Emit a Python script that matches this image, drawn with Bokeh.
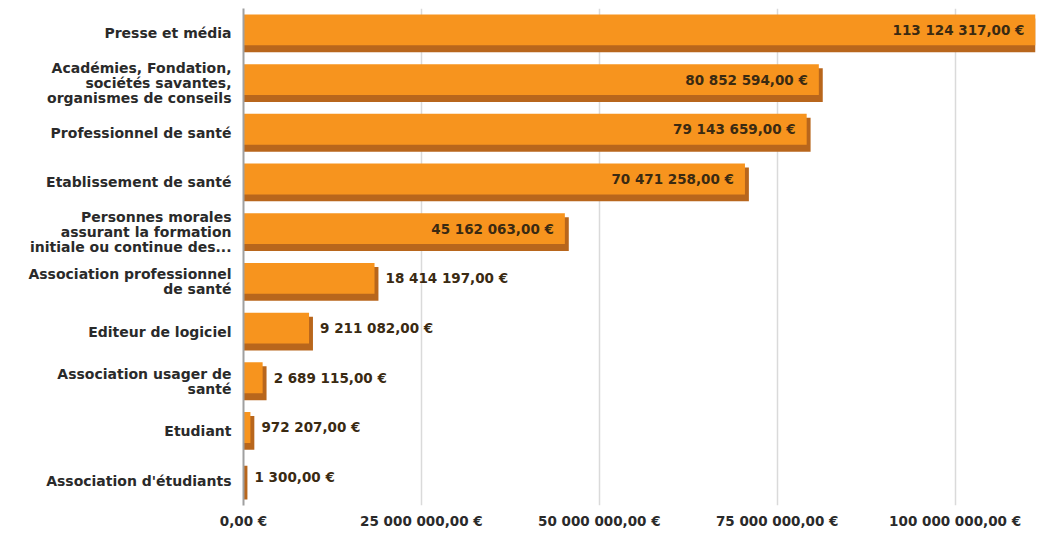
from bokeh.plotting import figure
from bokeh.models import Range1d, FixedTicker, ColumnDataSource
from bokeh.transform import dodge
from bokeh.core.properties import value
from bokeh.embed import file_html
from bokeh.resources import INLINE

categories = [
    "Presse et média",
    "Académies, Fondation,\nsociétés savantes,\norganismes de conseils",
    "Professionnel de santé",
    "Etablissement de santé",
    "Personnes morales\nassurant la formation\ninitiale ou continue des...",
    "Association professionnel\nde santé",
    "Editeur de logiciel",
    "Association usager de\nsanté",
    "Etudiant",
    "Association d'étudiants",
]
amounts = [113124317.00, 80852594.00, 79143659.00, 70471258.00, 45162063.00,
           18414197.00, 9211082.00, 2689115.00, 972207.00, 1300.00]
x_ticks = [0, 25000000, 50000000, 75000000, 100000000]

X_END = 111.3e6
FONT = "DejaVu Sans"


def euro(v):
    return f"{v:,.2f}".replace(",", " ").replace(".", ",") + " €"


n = len(categories)
ypos = [n - 1 - i for i in range(n)]
labels = [euro(v) for v in amounts]
inside = [v >= 40e6 for v in amounts]

src = ColumnDataSource(dict(y=ypos, v=amounts, label=labels))
src_in = ColumnDataSource(dict(
    y=[y for y, k in zip(ypos, inside) if k],
    x=[min(v, X_END) for v, k in zip(amounts, inside) if k],
    label=[l for l, k in zip(labels, inside) if k]))
src_out = ColumnDataSource(dict(
    y=[y for y, k in zip(ypos, inside) if not k],
    x=[v for v, k in zip(amounts, inside) if not k],
    label=[l for l, k in zip(labels, inside) if not k]))

p = figure(width=1039, height=538, output_backend="svg", toolbar_location=None,
           x_range=Range1d(0, X_END), y_range=Range1d(-0.5, n - 0.5),
           min_border_left=243, min_border_right=4, min_border_top=8,
           min_border_bottom=33)
p.outline_line_color = None
p.background_fill_color = "white"
p.border_fill_color = "white"

# shadow / depth face
p.hbar(y=dodge("y", -0.04, range=p.y_range), left=0,
       right=dodge("v", 0.55e6, range=p.x_range), height=0.68, source=src,
       fill_color="#B8661C", line_color=None)
# front face
p.hbar(y=dodge("y", 0.07, range=p.y_range), left=0, right="v", height=0.62,
       source=src, fill_color="#F7941E", line_color=None)

p.text(x="x", y=dodge("y", 0.07, range=p.y_range), text="label", source=src_in,
       text_align="right", text_baseline="middle", x_offset=-11,
       text_font=value(FONT), text_font_style="bold", text_font_size="13.5px",
       text_color="#3A2A12")
p.text(x="x", y=dodge("y", 0.07, range=p.y_range), text="label", source=src_out,
       text_align="left", text_baseline="middle", x_offset=11,
       text_font=value(FONT), text_font_style="bold", text_font_size="13.5px",
       text_color="#3A2A12")

# axes
p.xaxis.ticker = FixedTicker(ticks=x_ticks)
p.xaxis.major_label_overrides = {t: euro(t) for t in x_ticks}
p.xaxis.axis_line_color = None
p.xaxis.major_tick_line_color = None
p.xaxis.major_tick_out = 0
p.xaxis.major_tick_in = 0
p.xaxis.minor_tick_line_color = None
p.xaxis.major_label_standoff = 7
p.xaxis.major_label_text_font = FONT
p.xaxis.major_label_text_font_style = "bold"
p.xaxis.major_label_text_font_size = "13.5px"
p.xaxis.major_label_text_color = "#2A2A2A"

p.yaxis.ticker = FixedTicker(ticks=ypos)
p.yaxis.major_label_overrides = {y: c for y, c in zip(ypos, categories)}
p.yaxis.axis_line_color = "#A0A0A0"
p.yaxis.axis_line_width = 2
p.yaxis.major_tick_line_color = None
p.yaxis.major_tick_out = 0
p.yaxis.major_tick_in = 0
p.yaxis.minor_tick_line_color = None
p.yaxis.major_label_standoff = 12
p.yaxis.major_label_text_font = FONT
p.yaxis.major_label_text_font_style = "bold"
p.yaxis.major_label_text_font_size = "14px"
p.yaxis.major_label_text_color = "#2A2A2A"
p.yaxis.major_label_text_line_height = 0.95

p.xgrid.grid_line_color = "#DADADA"
p.xgrid.grid_line_width = 1.5
p.ygrid.grid_line_color = None

open("out.html", "w").write(file_html(p, INLINE))
